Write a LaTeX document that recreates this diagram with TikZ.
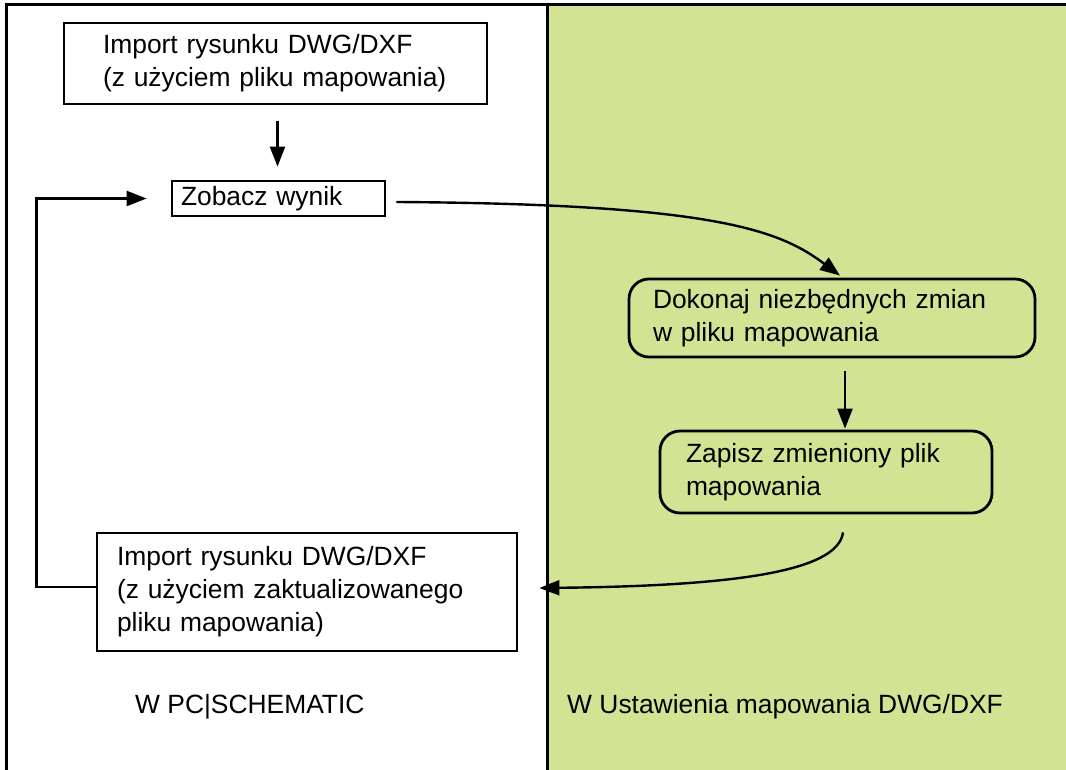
\documentclass[tikz,border=0pt]{standalone}
\usepackage{fontspec}
\setmainfont{Liberation Sans}
\usepackage{tikz}
\usetikzlibrary{arrows.meta, positioning, calc}
\definecolor{mapgreen}{RGB}{211,227,148}

\begin{document}
\begin{tikzpicture}[x=1pt, y=-1pt, line width=2.4pt,
		font=\fontsize{26.4}{33}\selectfont,
		box/.style={draw, line width=2.8pt, align=left, inner ysep=0pt},
		rbox/.style={box, rounded corners=20pt},
		arr/.style={-{Triangle[length=20pt,width=15pt]}}]
			\useasboundingbox (0,0) rectangle (1066,770);
			\fill[mapgreen] (547,5) rectangle (1066,770);
			\draw[line width=3pt] (6,770) -- (6,5) -- (1066,5);
			\draw[line width=3pt] (547,5) -- (547,770);
			\node[box, inner xsep=39pt, text width=345pt, minimum height=81pt] (imp1) at (275.5,63.5) {Import rysunku DWG/DXF\\(z użyciem pliku mapowania)};
			\node[box, inner xsep=9pt, text width=195pt, minimum height=35pt] (zob) at (278.5,198.5) {Zobacz wynik};
			\node[rbox, inner xsep=24pt, text width=358pt, minimum height=78pt] (dok) at (832,318) {Dokonaj niezbędnych zmian\\w pliku mapowania};
			\node[rbox, inner xsep=26pt, text width=280pt, minimum height=82pt] (zap) at (826,472) {Zapisz zmieniony plik\\mapowania};
			\node[box, inner xsep=20pt, text width=380pt, minimum height=118pt] (imp2) at (307,592) {Import rysunku DWG/DXF\\(z użyciem zaktualizowanego\\pliku mapowania)\\[8pt]};
			\node[anchor=west, inner sep=0pt] (pc) at (134,707) {W PC|SCHEMATIC};
			\node[anchor=west, inner sep=0pt] (ust) at (566,707) {W Ustawienia mapowania DWG/DXF};
			\draw[arr, shorten <=16pt, shorten >=13pt] ([xshift=2pt]imp1.south) -- ([xshift=2pt]imp1.south |- zob.north);
			\draw[arr] ([xshift=10pt,yshift=-3.5pt]zob.east) .. controls +(320,2) and +(-60,-45) .. ([xshift=8pt,yshift=2pt]dok.north);
			\draw[arr, shorten <=13pt, shorten >=1pt] ([xshift=13pt]dok.south) -- ([xshift=13pt]dok.south |- zap.north);
			\draw[arr] ([xshift=17pt,yshift=-18pt]zap.south) .. controls +(-5,40) and +(190,-2) .. ([xshift=21pt,yshift=4pt]imp2.east);
			\draw[arr, shorten >=24pt] ([yshift=5pt]imp2.west) -- ++(-59,0) |- (zob.west);
		\end{tikzpicture}
\end{document}
